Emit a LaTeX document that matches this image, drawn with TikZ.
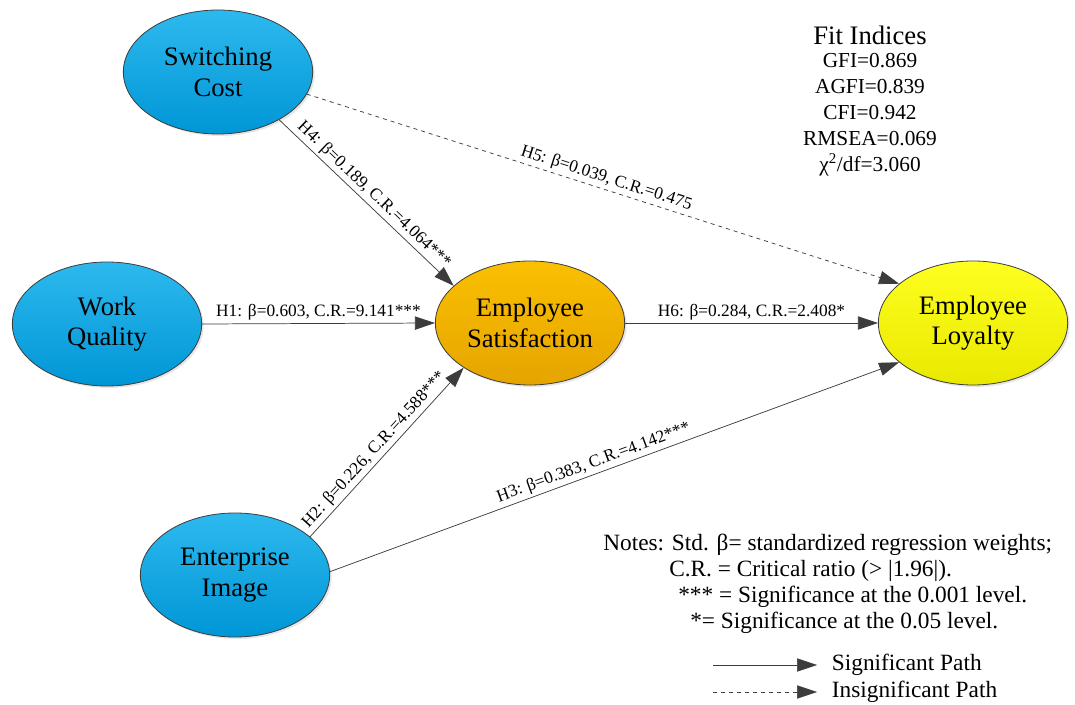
\documentclass[tikz,border=0pt]{standalone}
\usepackage{fontspec}
\setmainfont{LiberationSerif}[Extension=.ttf,UprightFont=*-Regular,BoldFont=*-Bold,ItalicFont=*-Italic]
\usetikzlibrary{calc,positioning,arrows.meta,shapes.geometric,shadows}
\definecolor{blueA}{HTML}{2DB9EE}\definecolor{blueB}{HTML}{0096D6}
\definecolor{oraA}{HTML}{FAC000}\definecolor{oraB}{HTML}{E6A400}
\definecolor{yelA}{HTML}{FFFF20}\definecolor{yelB}{HTML}{E8E800}
\definecolor{edge}{HTML}{3C3C3C}

\begin{document}
\begin{tikzpicture}[x=0.75pt,y=-0.75pt,>={Triangle[length=15pt,width=10pt]},
  lat/.style={ellipse,draw=edge,line width=0.6pt,minimum width=142pt,minimum height=93pt,inner sep=0pt,align=center,
    font=\fontsize{20}{23}\selectfont,drop shadow={opacity=0.2,shadow xshift=1.5pt,shadow yshift=-1.5pt}},
  path/.style={->,draw=edge,line width=0.55pt},
  lbl/.style={font=\fontsize{13}{15}\selectfont,inner sep=2pt},
  note/.style={anchor=west,font=\fontsize{17.5}{20}\selectfont,inner sep=0pt}]
\useasboundingbox (0,0) rectangle (1075,705);
% latent constructs
\node[lat,top color=blueA,bottom color=blueB] (sc) at (218,72) {Switching\\Cost};
\node[lat,top color=blueA,bottom color=blueB] (wq) at (107,324) {Work\\Quality};
\node[lat,top color=blueA,bottom color=blueB] (ei) at (235,575) {Enterprise\\Image};
\node[lat,top color=oraA,bottom color=oraB] (es) at (530,323) {Employee\\Satisfaction};
\node[lat,top color=yelA,bottom color=yelB] (el) at (973,323) {Employee\\Loyalty};
% paths
\draw[path] (wq.east)--(es.west) node[lbl,midway,above] {H1: β=0.603, C.R.=9.141***};
\draw[path] (ei.27)--(es.214) node[lbl,pos=0.47,above,sloped] {H2: β=0.226, C.R.=4.588***};
\draw[path] (ei.2)--(el.208) node[lbl,pos=0.47,above,sloped] {H3: β=0.383, C.R.=4.142***};
\draw[path] (sc.-38)--(es.154) node[lbl,midway,above,sloped] {H4: β=0.189, C.R.=4.064***};
\draw[path,dashed] (sc.-14)--(el.152) node[lbl,midway,above,sloped] {H5: β=0.039, C.R.=0.475};
\draw[path] (es.east)--(el.west) node[lbl,midway,above] {H6: β=0.284, C.R.=2.408*};
% fit indices
\node[font=\fontsize{20}{23}\selectfont] (fit) at (870,35) {Fit Indices};
\node[font=\fontsize{16}{19.5}\selectfont,align=center,below=0pt of fit] (idx) {GFI=0.869\\AGFI=0.839\\CFI=0.942\\RMSEA=0.069\\χ\textsuperscript{2}/df=3.060};
% notes
\node[note] (n1) at (603,545) {Notes: Std. β= standardized regression weights;};
\node[note] (n2) at (669,571) {C.R. = Critical ratio (> |1.96|).};
\node[note] (n3) at (678,597) {*** = Significance at the 0.001 level.};
\node[note] (n4) at (690,623) {*= Significance at the 0.05 level.};
% legend
\coordinate (sa) at (713,665);\coordinate (sb) at (817,665);
\coordinate (ia) at (713,692);\coordinate (ib) at (817,692);
\draw[path,line width=0.4pt] (sa)--(sb);\draw[path,dashed,line width=0.4pt] (ia)--(ib);
\node[note,right=11pt of sb] (ls) {Significant Path};
\node[note,right=11pt of ib] (li) {Insignificant Path};
\end{tikzpicture}
\end{document}
